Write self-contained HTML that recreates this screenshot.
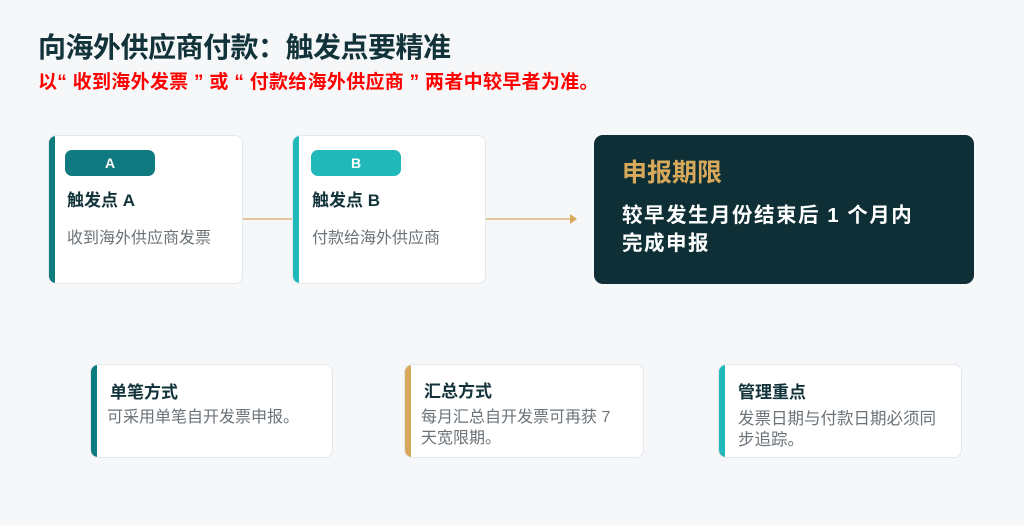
<!DOCTYPE html>
<html><head><meta charset="utf-8"><style>
*{margin:0;padding:0;box-sizing:border-box}
body{width:1024px;height:525px;background:#f5f7f9;font-family:"Liberation Sans","Noto Sans CJK SC",sans-serif;position:relative;overflow:hidden}
.a{position:absolute}
.card{position:absolute;background:#fff;border:1px solid #e3e8ec;border-radius:8px;overflow:hidden}
.bar{position:absolute;left:0;top:0;bottom:0;width:6px}
.pill{position:absolute;border-radius:7px;color:#fff;font-weight:bold;font-size:14px;text-align:center;line-height:26px;height:26px}
.t{position:absolute;font-weight:bold;color:#12333a;white-space:nowrap}
.d{position:absolute;color:#6b7379;white-space:nowrap}
</style></head><body>
<div class="t" style="left:38px;top:29px;font-size:28px;line-height:38px;letter-spacing:-0.5px">向海外供应商付款：触发点要精准</div>
<div class="t" style="left:38px;top:70px;font-size:19px;line-height:26px;color:#f00;letter-spacing:0.3px">以“ 收到海外发票 ” 或 “ 付款给海外供应商 ” 两者中较早者为准。</div>

<div class="card" style="left:48px;top:135px;width:195px;height:149px"><div class="bar" style="background:#0e7c7f"></div>
<div class="pill" style="left:16px;top:14px;width:90px;background:#0f7b80">A</div>
<div class="t" style="left:18px;top:53px;font-size:17px;line-height:24px">触发点 A</div>
<div class="d" style="left:18px;top:92px;font-size:16px;line-height:22px">收到海外供应商发票</div></div>

<div class="card" style="left:292px;top:135px;width:194px;height:149px"><div class="bar" style="background:#20b8b8"></div>
<div class="pill" style="left:18px;top:14px;width:90px;background:#20b8b8">B</div>
<div class="t" style="left:19px;top:53px;font-size:17px;line-height:24px">触发点 B</div>
<div class="d" style="left:19px;top:92px;font-size:16px;line-height:22px">付款给海外供应商</div></div>

<div class="a" style="left:243px;top:218px;width:49px;height:1.5px;background:#e2c79a"></div>
<div class="a" style="left:486px;top:218px;width:85px;height:1.5px;background:#e2c79a"></div>
<div class="a" style="left:570px;top:214px;width:0;height:0;border-left:7px solid #d8a95a;border-top:5px solid transparent;border-bottom:5px solid transparent"></div>

<div class="a" style="left:594px;top:135px;width:380px;height:149px;background:#0d2f35;border-radius:9px"></div>
<div class="t" style="left:622px;top:156px;font-size:25px;line-height:34px;color:#d8a95a">申报期限</div>
<div class="t" style="left:622px;top:202px;font-size:20.5px;line-height:28px;color:#fff;letter-spacing:1.5px">较早发生月份结束后 1 个月内<br>完成申报</div>

<div class="card" style="left:90px;top:364px;width:243px;height:94px"><div class="bar" style="background:#0e7c7f"></div>
<div class="t" style="left:19px;top:16px;font-size:17px;line-height:24px">单笔方式</div>
<div class="d" style="left:16px;top:42px;font-size:16px;line-height:22px">可采用单笔自开发票申报。</div></div>

<div class="card" style="left:404px;top:364px;width:240px;height:94px"><div class="bar" style="background:#d6a85a"></div>
<div class="t" style="left:19px;top:15px;font-size:17px;line-height:24px">汇总方式</div>
<div class="d" style="left:16px;top:42px;font-size:16px;line-height:21px">每月汇总自开发票可再获 7<br>天宽限期。</div></div>

<div class="card" style="left:718px;top:364px;width:244px;height:94px"><div class="bar" style="background:#20b8b8"></div>
<div class="t" style="left:19px;top:16px;font-size:17px;line-height:24px">管理重点</div>
<div class="d" style="left:19px;top:44px;font-size:16.5px;line-height:21px">发票日期与付款日期必须同<br>步追踪。</div></div>
</body></html>
